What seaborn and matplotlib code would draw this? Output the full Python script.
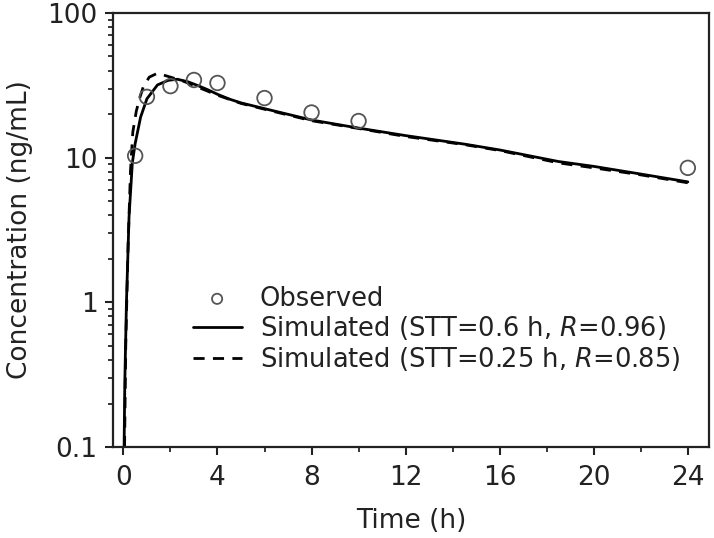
import numpy as np
import pandas as pd
import seaborn as sns
import matplotlib.pyplot as plt

# Observed concentrations
obs_time = [0.5, 1, 2, 3, 4, 6, 8, 10, 24]
obs_conc = [10.3, 26.3, 31.2, 34.4, 32.8, 25.8, 20.5, 17.9, 8.5]

# Simulated, STT=0.6 h
sim1_time = [0.03, 0.06, 0.13, 0.24, 0.38, 0.5, 0.73, 1.0, 1.45, 1.9, 2.3, 2.75,
             3.2, 3.6, 4.0, 4.5, 5.0, 6, 8, 10, 12, 14.5, 16, 18.5, 20, 22, 24]
sim1_conc = [0.1, 0.28, 1.0, 3.9, 9.2, 12.5, 19, 25.5, 31.8, 34.2, 34.8, 33.4,
             31.3, 29.4, 27.4, 25.4, 23.9, 21.8, 18.2, 16.0, 14.2, 12.4, 11.3, 9.4, 8.7, 7.7, 6.8]

# Simulated, STT=0.25 h
sim2_time = [0.05, 0.1, 0.2, 0.3, 0.4, 0.55, 0.7, 0.85, 1.1, 1.45, 2.0, 2.5,
             3.0, 4.0, 5.0, 6, 8, 10, 12, 14.5, 16, 18.5, 20, 22, 24]
sim2_conc = [0.1, 0.5, 2.5, 8, 15, 21, 26, 31, 36, 38.3, 36, 34,
             31.5, 27, 23.7, 21.6, 18.0, 15.9, 14.0, 12.3, 11.2, 9.2, 8.5, 7.6, 6.7]

labels = ["Observed",
          "Simulated (STT=0.6 h, $\\mathit{R}$=0.96)",
          "Simulated (STT=0.25 h, $\\mathit{R}$=0.85)"]

sns.set_style("ticks")
plt.rcParams["font.family"] = ["DejaVu Sans"]
plt.rcParams["mathtext.fontset"] = "custom"
plt.rcParams["mathtext.rm"] = "DejaVu Sans"
plt.rcParams["mathtext.it"] = "DejaVu Sans:italic"

fig = plt.figure(figsize=(7.14, 5.38), dpi=100)
ax = fig.add_axes([0.158, 0.169, 0.835, 0.807])

sim1 = pd.DataFrame({"Time": sim1_time, "Conc": sim1_conc})
sim2 = pd.DataFrame({"Time": sim2_time, "Conc": sim2_conc})
obs = pd.DataFrame({"Time": obs_time, "Conc": obs_conc})

sns.lineplot(data=sim1, x="Time", y="Conc", ax=ax, color="black", lw=2,
             label=labels[1])
sns.lineplot(data=sim2, x="Time", y="Conc", ax=ax, color="black", lw=2,
             linestyle=(0, (4, 3)), label=labels[2])
sns.scatterplot(data=obs, x="Time", y="Conc", ax=ax, marker="o", s=110,
                facecolor="none", edgecolor="#555555", linewidth=1.3,
                label=labels[0], zorder=3)

ax.set_yscale("log")
ax.set_ylim(0.1, 100)
ax.set_xlim(-0.45, 24.9)
ax.set_xticks(range(0, 25, 4))
ax.set_xticks(range(2, 25, 4), minor=True)
ax.set_yticks([0.1, 1, 10, 100])
ax.set_yticklabels(["0.1", "1", "10", "100"])

for s in ax.spines.values():
    s.set_linewidth(1.6)
    s.set_color("#222222")
ax.tick_params(which="major", direction="out", length=6, width=1.5,
               labelsize=19, colors="#222222", pad=5)
ax.tick_params(axis="x", which="major", pad=7)
ax.tick_params(which="minor", direction="out", length=3.5, width=1.3)

ax.set_xlabel("Time (h)", fontsize=19, color="#222222", labelpad=12)
ax.set_ylabel("Concentration (ng/mL)", fontsize=19, color="#222222", labelpad=10)

h, l = ax.get_legend_handles_labels()
order = [2, 0, 1]
leg = ax.legend([h[i] for i in order], [l[i] for i in order], frameon=False,
                loc="upper left", bbox_to_anchor=(0.134, 0.372), fontsize=18.5,
                borderpad=0, borderaxespad=0, handlelength=1.9,
                handletextpad=0.7, labelspacing=0.1, markerscale=0.7)
for t in leg.get_texts():
    t.set_color("#222222")

fig.savefig("out.png", dpi=100)
